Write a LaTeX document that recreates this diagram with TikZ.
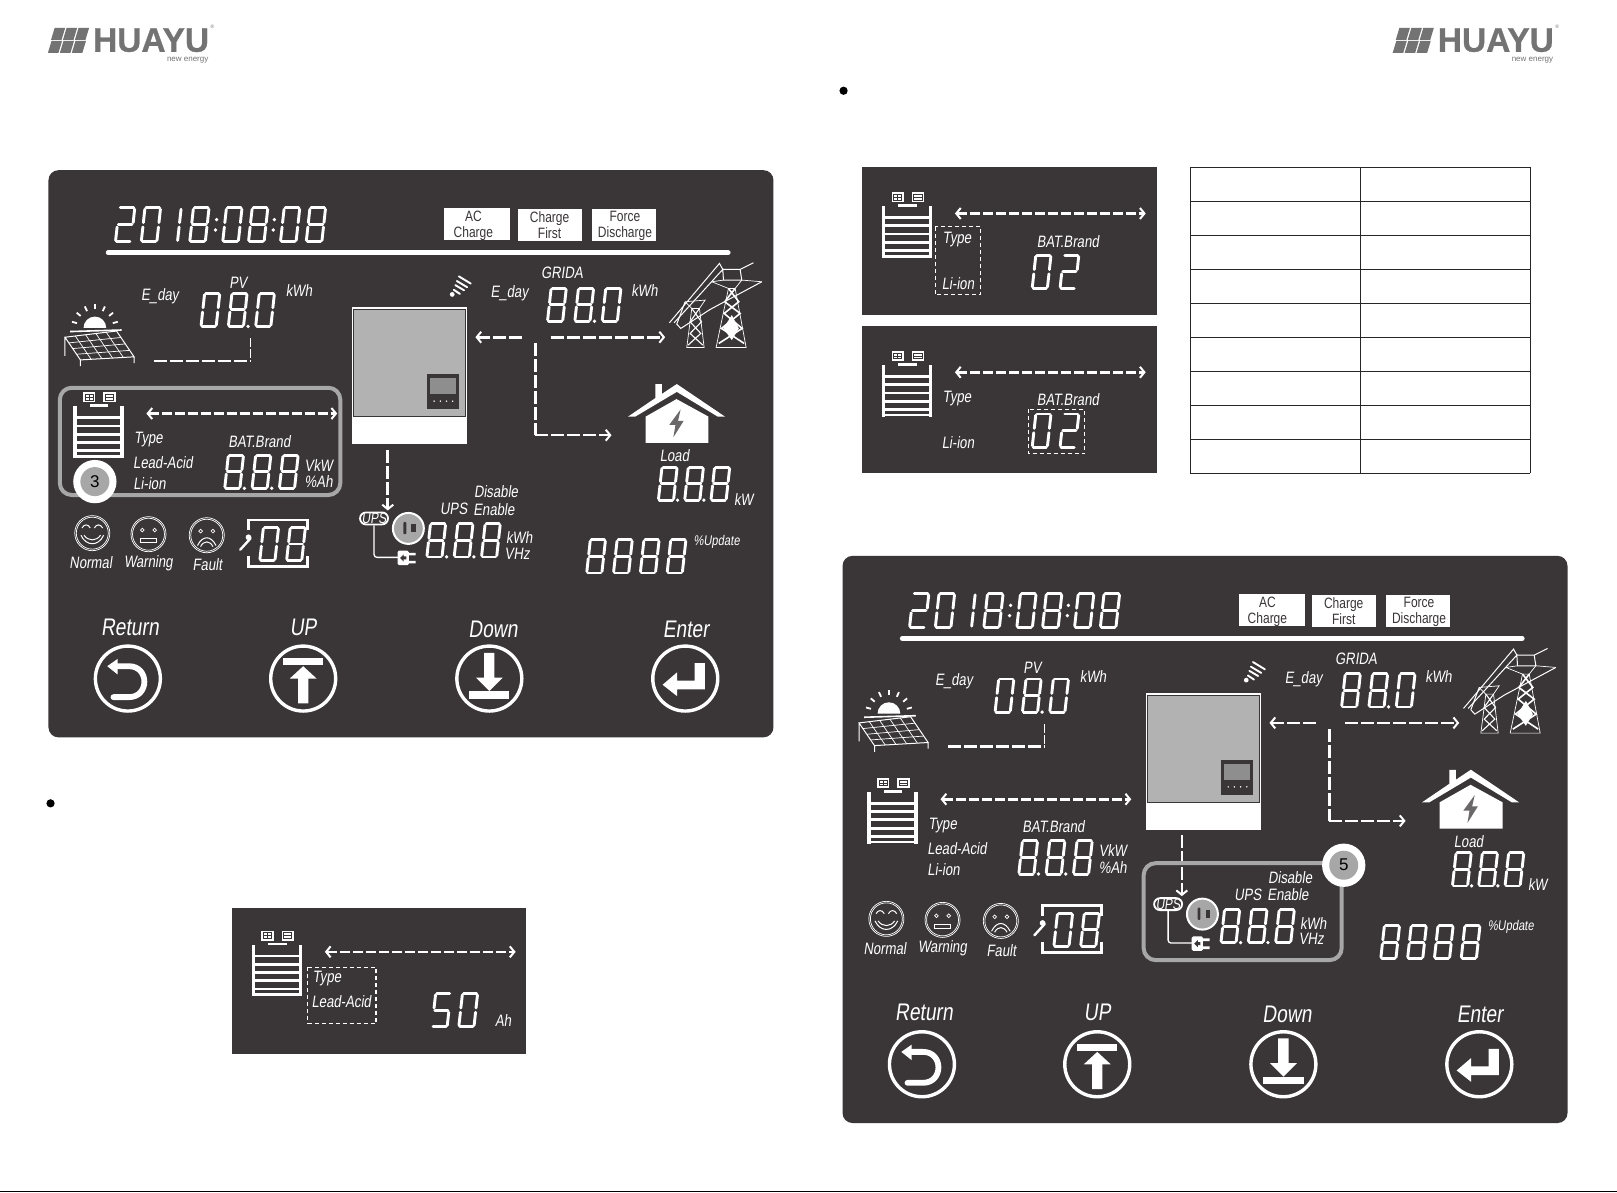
\documentclass[tikz,border=0pt]{standalone}
\usepackage{fontspec}
\setmainfont{Liberation Sans}
\newfontfamily\lcdfont[FakeStretch=0.8,FakeSlant=0.14]{Liberation Sans}
\newfontfamily\boxfont[FakeStretch=0.8]{Liberation Sans}
\newfontfamily\logofont[BoldFeatures={FakeBold=0.8}]{Liberation Sans}
\usetikzlibrary{arrows.meta}
\usetikzlibrary{calc}

\definecolor{lcdbg}{RGB}{58,54,55}
\definecolor{lcdgrey}{RGB}{179,178,178}
\definecolor{hilite}{RGB}{168,167,167}
\definecolor{logogrey}{RGB}{115,115,115}

\tikzset{
	lcdtext/.style={text=white,inner sep=0pt,yshift=-1pt,font=\lcdfont\fontsize{16.5}{16.5}\selectfont},
	lcdbig/.style={text=white,inner sep=0pt,font=\lcdfont\fontsize{24}{24}\selectfont},
	lcdtiny/.style={text=white,inner sep=0pt,font=\lcdfont\fontsize{14}{14}\selectfont},
	modetext/.style={text=lcdbg,inner sep=0pt,align=center,font=\boxfont\fontsize{15}{16}\selectfont},
	segline/.style={white,line width=2.9pt,line cap=round},
	flowline/.style={white,line width=2.6pt,dash pattern=on 10pt off 3pt},
	flowlong/.style={white,line width=2.6pt,dash pattern=on 13pt off 3pt},
	flowtip/.style={-{Straight Barb[length=4.5pt,width=11pt,line width=2pt]}},
	bothtip/.style={{Straight Barb[length=4.5pt,width=11pt,line width=2pt]}-{Straight Barb[length=4.5pt,width=11pt,line width=2pt]}},
	selbox/.style={white,line width=1.1pt,dash pattern=on 4pt off 3pt},
	thinicon/.style={white,line width=0.7pt},
	hilitebox/.style={hilite,line width=4pt,rounded corners=12pt}
}

% seven segment parts, y runs downwards
\newcommand{\sega}{\draw[segline] (.08,.04) -- (.44,.04);}
\newcommand{\segb}{\draw[segline] (.47,.08) -- (.47,.44);}
\newcommand{\segc}{\draw[segline] (.47,.56) -- (.47,.92);}
\newcommand{\segd}{\draw[segline] (.08,.96) -- (.44,.96);}
\newcommand{\sege}{\draw[segline] (.05,.56) -- (.05,.92);}
\newcommand{\segf}{\draw[segline] (.05,.08) -- (.05,.44);}
\newcommand{\segg}{\draw[segline] (.08,.5) -- (.44,.5);}
\def\digzero{a,b,c,d,e,f}
\def\digone{b,c}
\def\digtwo{a,b,g,e,d}
\def\digfive{a,f,g,c,d}
\def\digeight{a,b,c,d,e,f,g}
% x, top y, height, digit name
\newcommand{\lcddigit}[4]{
	\begin{scope}[shift={({#1+0.11*#3},#2)},xslant=0.11,scale=#3]
		\expandafter\let\expandafter\cursegs\csname dig#4\endcsname
		\foreach \s in \cursegs {\csname seg\s\endcsname}
	\end{scope}
}
% x, top y, height, pitch, digit names
\newcommand{\lcdnum}[5]{
	\foreach \d [count=\i from 0] in {#5} {\lcddigit{#1+\i*#4}{#2}{#3}{\d}}
}
% the small points behind a digit: x, y
\newcommand{\lcdpoint}[2]{\fill[white] (#1,#2) circle (1.8);}

% battery and its dashed double arrow, placed by the scope round it
\newcommand{\batgroup}{
	\fill[white] (71,394) rectangle (74.5,444);
	\fill[white] (116.5,394) rectangle (120,444);
	\foreach \y in {405,413,421,429,437,442.5} {\draw[white,line width=2.8pt] (74,\y) -- (117,\y);}
	\fill[white] (87,392) rectangle (105,394.5);
	\fill[white] (80.5,380.5) rectangle (92.5,390);
	\fill[white] (100,380.5) rectangle (112,390);
	\draw[lcdbg,line width=0.8pt] (82.5,382.5) rectangle (90.5,388) (86.5,382.5) -- (86.5,388) (82.5,385.2) -- (90.5,385.2);
	\draw[lcdbg,line width=0.8pt] (102,382.5) rectangle (110,388) (102,385.2) -- (110,385.2);
	\coordinate (batl) at (142,401);
	\coordinate (batr) at (327,401);
	\draw[flowline,bothtip] (batl) -- (batr);
}

% the big panel, drawn at the place of the upper left one
\newcommand{\hmipanel}{
	\fill[lcdbg,rounded corners=10pt] (47,165) rectangle (750,715);

	%date line and mode boxes
	\lcdnum{110}{200}{36}{25}{two,zero}
	\lcddigit{155}{200}{36}{one}
	\lcddigit{182}{200}{36}{eight}
	\lcdnum{214}{200}{36}{25}{zero,eight}
	\lcdnum{270}{200}{36}{25}{zero,eight}
	\foreach \x in {210,266} {\lcdpoint{\x}{213} \lcdpoint{\x-1}{223}}
	\fill[white] (431,202) rectangle (495,233);
	\fill[white] (502,203) rectangle (564,234);
	\fill[white] (574,203) rectangle (636,234);
	\node[modetext] (accharge) at (459,219) {AC\\Charge};
	\node[modetext] (chargefirst) at (533,218.5) {Charge\\First};
	\node[modetext] (forcedis) at (606,219) {Force\\Discharge};
	\draw[white,line width=5pt,line cap=round] (105,245) -- (706,245);

	%solar side
	\node[lcdtext] (eday) at (155,286) {E\_day};
	\node[lcdtext] (pv) at (231,273) {PV};
	\node[lcdtext] (pvunit) at (290,281) {kWh};
	\lcdnum{193}{283}{35}{26.5}{zero,eight,zero}
	\lcdpoint{240.5}{316.5}
	\coordinate (pa) at (63,327);
	\coordinate (pb) at (113,321);
	\coordinate (pc) at (130,346);
	\coordinate (pd) at (78,349);
	\fill[white] (81,318) arc[start angle=180,end angle=360,radius=11] -- cycle;
	\foreach \a in {15,40,65,90,115,140,165} {\draw[white,line width=1.8pt] ($(92,318)+({18*cos(\a)},{-18*sin(\a)})$) -- ($(92,318)+({23*cos(\a)},{-23*sin(\a)})$);}
	\draw[white,line width=1.6pt] (68,321.5) -- (118,320);
	\draw[thinicon,line width=1pt] (pa) -- (pb) -- (pc) -- (pd) -- cycle (pa) -- (63,345) (pd) -- (78,355) (pc) -- (130,352);
	\foreach \t in {.2,.4,.6,.8} {\draw[thinicon] ($(pa)!\t!(pb)$) -- ($(pd)!\t!(pc)$);}
	\foreach \t in {.25,.5,.75} {\draw[thinicon] ($(pa)!\t!(pd)$) -- ($(pb)!\t!(pc)$);}
	\coordinate (pvl) at (149,350);
	\coordinate (pvc) at (243,350);
	\coordinate (pvt) at (243,328);
	\draw[flowlong] (pvl) -- (pvc);
	\draw[white,line width=1.6pt,dash pattern=on 9pt off 2pt] (pvt) -- (pvc);

	%inverter and wifi
	\fill[white] (341,298) rectangle (453,431);
	\filldraw[fill=lcdgrey,draw=lcdbg,line width=0.7pt] (343,300) rectangle (451,404);
	\fill[lcdbg] (414,363) rectangle (445,397);
	\fill[lcdgrey!80!black] (417,367) rectangle (442,382);
	\foreach \x in {421,427,433,439} {\fill[white] (\x,389) circle (0.8);}
	\fill[white] (438.5,285.5) circle (2.3);
	\draw[white,line width=1.9pt,line cap=round] (440,281) -- (446,285) (441.5,276.5) -- (450,281.5) (443,272.5) -- (453,278.5) (445,268) -- (456.5,275);

	%grid side
	\node[lcdtext] (edayg) at (494,283.5) {E\_day};
	\node[lcdtext] (grid) at (545,264) {GRIDA};
	\node[lcdtext] (gridunit) at (625,281) {kWh};
	\lcdnum{529}{278}{35}{26.5}{eight,eight,zero}
	\lcdpoint{576.5}{311.5}
	\coordinate (gridl) at (506,327);
	\coordinate (invin) at (461,327);
	\coordinate (gridr) at (534,327);
	\coordinate (pylon) at (645,327);
	\coordinate (gridd) at (519,333);
	\coordinate (gridc) at (519,422);
	\coordinate (house) at (593,422);
	\draw[flowlong,flowtip] (gridl) -- (invin);
	\draw[flowlong,flowtip] (gridr) -- (pylon);
	\draw[flowlong] (gridd) -- (gridc);
	\draw[flowlong,flowtip] (gridc) -- (house);
	\begin{scope}[shift={(640.1,242.5)},scale=0.3233]
		\draw[thinicon] (168,292) -- (205,115) -- (225,115) -- (258,292) -- cycle;
		\draw[white,line width=1.6pt] (205,115) -- (236,155) -- (192,190) -- (246,235) -- (176,280) (225,115) -- (194,155) -- (240,190) -- (184,235) -- (252,280);
		\fill[white] (215,195) -- (236,235) -- (215,270) -- (190,235) -- cycle;
		\draw[thinicon] (80,292) -- (95,175) -- (118,175) -- (132,292) -- cycle;
		\draw[white,line width=1.1pt] (95,175) -- (124,215) -- (90,250) -- (128,285) (118,175) -- (90,215) -- (122,250) -- (84,285);
		\draw[thinicon,line width=1pt] (28,218) -- (178,40) -- (188,58) -- (240,58) -- (280,38);
		\draw[thinicon,line width=1pt] (42,218) -- (188,58) -- (190,90) -- (245,90) -- (240,58);
		\draw[thinicon,line width=1pt] (305,95) -- (150,178) -- (62,235) -- (50,222) -- (75,155);
		\draw[thinicon] (245,90) -- (305,95) (155,95) -- (190,90) (155,95) -- (205,115) (225,115) -- (245,90);
		\draw[thinicon] (75,155) -- (135,150) -- (118,175) (75,155) -- (95,175);
	\end{scope}

	%house and load
	\fill[white] (626,429.5) -- (626,404) -- (656,387) -- (687,404) -- (687,429.5) -- cycle;
	\fill[white] (609,404) -- (635.5,386) -- (635.5,372.5) -- (641.8,372.5) -- (641.8,382) -- (656.3,372.4) -- (703,404) -- (696,404) -- (656.3,380) -- (616,404) -- cycle;
	\fill[lcdbg!60!lcdgrey] (660,397) -- (649,412) -- (655,412) -- (653,424) -- (663,408) -- (657.5,408) -- cycle;
	\node[lcdtext] (load) at (654,441) {Load};
	\node[lcdtext] (loadunit) at (721,483) {kW};
	\lcdnum{636.5}{451.5}{35}{25.5}{eight,eight,eight}
	\lcdpoint{657}{485} \lcdpoint{682.5}{485}

	%battery row
	\batgroup
	\node[lcdtext] (type) at (144,425.5) {Type};
	\node[lcdtext] (leadacid) at (158,448) {Lead-Acid};
	\node[lcdtext] (liion) at (145,468) {Li-ion};
	\node[lcdtext] (batbrand) at (251.5,427) {BAT.Brand};
	\node[lcdtext] (vkw) at (309,450) {VkW};
	\node[lcdtext] (pah) at (309,466) {\%Ah};
	\lcdnum{216}{440}{35}{26.5}{eight,eight,eight}
	\lcdpoint{237}{473.5} \lcdpoint{263.5}{473.5}

	%ups side
	\coordinate (invout) at (376,436);
	\coordinate (upsin) at (376,495);
	\draw[flowlong,flowtip] (invout) -- (upsin);
	\node[draw=white,line width=1.8pt,fill=lcdbg,rounded corners=6pt,minimum width=28pt,minimum height=12pt,inner sep=0pt,text=white,font=\lcdfont\fontsize{15}{15}\selectfont] (ups) at (362.7,502.7) {UPS};
	\coordinate (plugin) at (386,540.5);
	\draw[white,line width=1.3pt,rounded corners=3pt] (ups.south -| 362.7,0) -- (362.7,540.5) -- (plugin);
	\filldraw[fill=hilite,draw=white,line width=2pt] (396,512.4) circle (15);
	\fill[lcdbg,rounded corners=1pt] (391.2,506) rectangle (394,518);
	\fill[lcdbg] (399,508) rectangle (403.5,516);
	\fill[white,rounded corners=1.5pt] (385.5,534) rectangle (396.5,548);
	\fill[white] (396,536) rectangle (403,538.5) (396,543.8) rectangle (403,546.3);
	\fill[lcdbg] (388,541) -- (391.5,537.5) -- (391.5,539.5) -- (394,539.5) -- (394,542.5) -- (391.5,542.5) -- (391.5,544.5) -- cycle;
	\node[lcdtext] (upstxt) at (440,492.7) {UPS};
	\node[lcdtext] (enable) at (479,492.7) {Enable};
	\node[lcdtext] (disable) at (481,476) {Disable};
	\node[lcdtext] (upskwh) at (503.5,520.5) {kWh};
	\node[lcdtext] (upsvhz) at (501.5,535.7) {VHz};
	\lcdnum{412}{506.5}{35}{26.5}{eight,eight,eight}
	\lcdpoint{433}{540} \lcdpoint{459.5}{540}

	%update field
	\lcdnum{567}{522}{35}{26}{eight,eight,eight,eight}
	\node[lcdtiny] (update) at (695,525) {\%Update};

	%status faces
	\foreach \x/\y in {89.5/517,144/518,200.5/519} {
		\draw[thinicon] (\x,\y) circle (17);
		\draw[thinicon] (\x,\y) circle (15.5);
	}
	\begin{scope}[shift={(89.5,517)}]
		\draw[thinicon,line width=1pt] (-10,-5) .. controls (-8,-9) and (-4,-9) .. (-2,-5) (2,-5) .. controls (4,-9) and (8,-9) .. (10,-5);
		\draw[thinicon,line width=1pt] (-11,2) .. controls (-6,13) and (6,13) .. (11,2) (-8,2) .. controls (-4,8) and (4,8) .. (8,2);
	\end{scope}
	\begin{scope}[shift={(144,518)}]
		\draw[thinicon] (-6,-4) circle (1.8) (6,-4) circle (1.8);
		\draw[thinicon,line width=1pt] (-8,4) rectangle (8,8.5);
	\end{scope}
	\begin{scope}[shift={(200.5,519)}]
		\draw[thinicon] (-6,-4) circle (1.8) (6,-4) circle (1.8);
		\draw[thinicon,line width=1pt] (-9,10) .. controls (-4,0) and (4,0) .. (9,10) (-6,11) .. controls (-3,5) and (3,5) .. (6,11);
	\end{scope}
	\node[lcdtext] (normal) at (88,545) {Normal};
	\node[lcdtext] (warning) at (144,545) {Warning};
	\node[lcdtext] (fault) at (201,547) {Fault};

	%fault code
	\lcdnum{250}{510}{35}{26}{zero,eight}
	\draw[white,line width=2.4pt] (241,514) -- (241,504) -- (298,504) -- (298,514) (241,539) -- (241,549.5) -- (298,549.5) -- (298,539);
	\draw[white,line width=2.4pt,line cap=round] (233,533) -- (243,522);
	\fill[white] (241,521) circle (2.8);
	\fill[lcdbg] (244,518.5) circle (1.5);

	%keys
	\node[lcdbig] (return) at (126,608) {Return};
	\node[lcdbig] (up) at (294,608) {UP};
	\node[lcdbig] (down) at (478,610) {Down};
	\node[lcdbig] (enter) at (665,610) {Enter};
	\foreach \x in {124,294,474.5,664.5} {\draw[white,line width=3.4pt] (\x,658) circle (31.5);}
	\begin{scope}[shift={(124,658)}]
		\fill[white] (-20,-12) -- (-10,-19) -- (-10,-4) -- cycle;
		\draw[white,line width=5.8pt,line cap=round] (-10,-12) -- (1,-12) .. controls (21,-12) and (21,18) .. (1,18) -- (-14,18);
	\end{scope}
	\begin{scope}[shift={(294,658)}]
		\fill[white] (-19.5,-19.5) rectangle (19.5,-13);
		\fill[white] (0,-12) -- (13,0) -- (5,0) -- (5,24) -- (-5,24) -- (-5,0) -- (-13,0) -- cycle;
	\end{scope}
	\begin{scope}[shift={(474.5,658)}]
		\fill[white] (-19.5,12.5) rectangle (19.5,19.5);
		\fill[white] (0,12) -- (13,-1) -- (5,-1) -- (5,-25) -- (-5,-25) -- (-5,-1) -- (-13,-1) -- cycle;
	\end{scope}
	\begin{scope}[shift={(664.5,658)}]
		\fill[white] (-22,6) -- (-8,-6) -- (-8,2) -- (9,2) -- (9,-15) -- (19,-15) -- (19,10.5) -- (-8,10.5) -- (-8,17) -- cycle;
	\end{scope}
}

% numbered mark: centre, number
\newcommand{\stepmark}[2]{
	\fill[white] (#1) circle (21);
	\node[circle,fill=hilite,minimum size=29pt,inner sep=0pt,text=black,font=\fontsize{17}{17}\selectfont] (mark#2) at (#1) {#2};
}

% header logo
\newcommand{\huayulogo}{
	\foreach \c in {0,1,2} {
		\foreach \r in {0,1} {
			\fill[logogrey,shift={({\c*11.6-\r*3},{\r*12.6})}] (53,27) -- (63.2,27) -- (59.7,38.6) -- (49.5,38.6) -- cycle;
		}
	}
	\node[inner sep=0pt,text=logogrey,xscale=0.985,font=\logofont\bfseries\fontsize{34}{34}\selectfont] (huayu) at (146.5,39) {HUAYU};
	\node[inner sep=0pt,text=logogrey,font=\fontsize{5}{5}\selectfont] (regmark) at (206,26) {®};
	\node[inner sep=0pt,text=logogrey,font=\fontsize{8}{8}\selectfont] (newenergy) at (182,58.5) {new energy};
}

\begin{document}
\begin{tikzpicture}[x=1.03125pt,y=-1.03125pt,>=stealth]
	\useasboundingbox (0,0) rectangle (1568,1155.9);
	\fill[white] (0,0) rectangle (1568,1155.9);

	%page furniture
	\begin{scope}[name prefix=la-]
		\huayulogo
	\end{scope}
	\begin{scope}[shift={(1304,0)},name prefix=lb-]
		\huayulogo
	\end{scope}
	\fill[black] (49,779) circle (4);
	\fill[black] (818,88) circle (4);
	\draw[black,line width=1.2pt] (0,1155.4) -- (1568,1155.4);

	%the first big panel, battery marked
	\begin{scope}[name prefix=pa-]
		\hmipanel
		\draw[hilitebox] (58,376) rectangle (330,480);
		\stepmark{92,467}{3}
	\end{scope}

	%the second big panel, ups marked
	\begin{scope}[shift={(770,374)},name prefix=pb-]
		\hmipanel
		\draw[hilitebox] (339,463) rectangle (531,557);
		\stepmark{533,465}{5}
	\end{scope}

	%small panel with the capacity value
	\fill[lcdbg] (225,880) rectangle (510,1022);
	\begin{scope}[shift={(173,522)},name prefix=pc-]
		\batgroup
		\node[lcdtext] (type) at (144,425.5) {Type};
		\node[lcdtext] (leadacid) at (158,448) {Lead-Acid};
		\draw[selbox,line width=1.5pt] (125.4,416) rectangle (191.7,470.5);
		\lcdnum{244}{440}{35}{26}{five,zero}
		\node[lcdtext] (ah) at (315,467) {Ah};
	\end{scope}

	%small panel with type selected
	\fill[lcdbg] (836,162) rectangle (1122,305);
	\begin{scope}[shift={(784,-194)},name prefix=pd-]
		\batgroup
		\node[lcdtext] (type) at (144,425.5) {Type};
		\node[lcdtext] (liion) at (145,468) {Li-ion};
		\node[lcdtext] (batbrand) at (251.5,427) {BAT.Brand};
		\draw[selbox] (123,414) rectangle (167,480);
		\lcdnum{215}{440}{35}{27}{zero,two}
	\end{scope}

	%small panel with brand selected
	\fill[lcdbg] (836,316) rectangle (1122,459);
	\begin{scope}[shift={(784,-40)},name prefix=pe-]
		\batgroup
		\node[lcdtext] (type) at (144,425.5) {Type};
		\node[lcdtext] (liion) at (145,468) {Li-ion};
		\node[lcdtext] (batbrand) at (251.5,427) {BAT.Brand};
		\draw[selbox] (213,437) rectangle (268,480);
		\lcdnum{215}{440}{35}{27}{zero,two}
	\end{scope}

	%empty table
	\foreach \r in {0,...,9} {\draw[black!85,line width=1pt] (1154,{162+\r*33}) -- (1484,{162+\r*33});}
	\foreach \x in {1154,1319,1484} {\draw[black!85,line width=1pt] (\x,162) -- (\x,459);}
\end{tikzpicture}
\end{document}
